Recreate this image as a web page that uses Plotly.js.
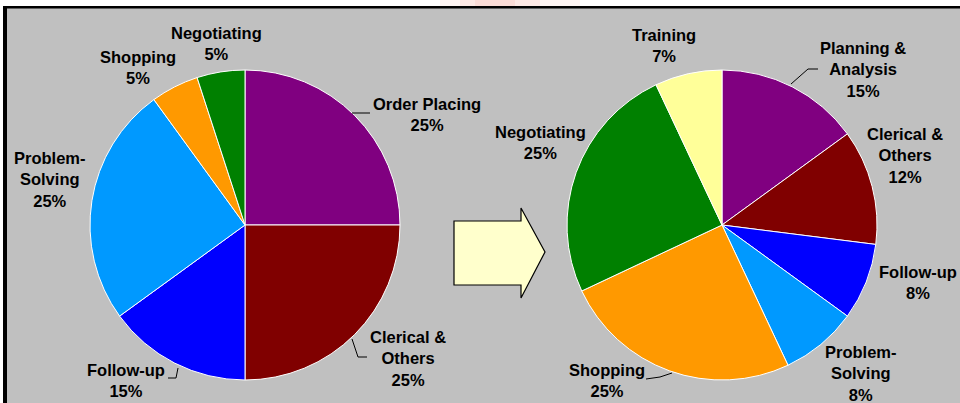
<!DOCTYPE html>
<html>
<head>
<meta charset="utf-8">
<script src="https://cdn.plot.ly/plotly-3.0.1.min.js"></script>
<style>
html,body{margin:0;padding:0;background:#fff;}
#chart{width:960px;height:403px;}
</style>
</head>
<body>
<div id="chart"></div>
<script>
// ---- data ----
var beforeLabels = ['Order Placing', 'Clerical & Others', 'Follow-up', 'Problem-Solving', 'Shopping', 'Negotiating'];
var beforeValues = [25, 25, 15, 25, 5, 5];
var beforeColors = ['#800080', '#800000', '#0000FF', '#0099FF', '#FF9900', '#008000'];

var afterLabels = ['Planning & Analysis', 'Clerical & Others', 'Follow-up', 'Problem-Solving', 'Shopping', 'Negotiating', 'Training'];
var afterValues = [15, 12, 8, 8, 25, 25, 7];
var afterColors = ['#800080', '#800000', '#0000FF', '#0099FF', '#FF9900', '#008000', '#FFFF99'];

// label block centres (px from top-left) — layout only
var beforeLabelPos = [[427, 115], [408, 358], [126, 380], [50, 179], [138, 67], [216, 43]];
var afterLabelPos = [[863, 70], [905, 155], [918, 282], [861, 373], [607, 380], [540, 142], [664, 45]];

// leader lines (px polylines) — layout only
var leaders = [
  [[352,113],[370,113]],
  [[352,339],[358,357],[367,357]],
  [[168,378],[176,378],[178,368]],
  [[791,84],[808,69],[818,69]],
  [[646,379],[660,377],[672,373]]
];

var W = 960, H = 403;
function px(x){ return x / W; }
function py(y){ return 1 - y / H; }

function wrap(name){
  if (name.indexOf(' & ') >= 0) return name.replace(' & ', ' &<br>');
  return name.replace(/-([A-Z])/, '-<br>$1');
}

var R = 155;
function domain(cx, cy){
  return {x: [px(cx - R), px(cx + R)], y: [py(cy + R), py(cy - R)]};
}

var common = {
  type: 'pie', sort: false, direction: 'clockwise', rotation: 0,
  textinfo: 'none', hoverinfo: 'label+percent', showlegend: false
};

var traces = [
  Object.assign({}, common, {
    labels: beforeLabels, values: beforeValues,
    marker: {colors: beforeColors, line: {color: '#FFFFFF', width: 1}},
    domain: domain(245, 225)
  }),
  Object.assign({}, common, {
    labels: afterLabels, values: afterValues,
    marker: {colors: afterColors, line: {color: '#FFFFFF', width: 1}},
    domain: domain(722, 225)
  })
];

var annFont = {family: 'Liberation Sans, Arial, sans-serif', size: 16.5, color: '#000000', weight: 'bold'};
var annotations = [];
function addLabels(labels, values, pos){
  labels.forEach(function(l, i){
    annotations.push({
      xref: 'paper', yref: 'paper', x: px(pos[i][0]), y: py(pos[i][1]),
      xanchor: 'center', yanchor: 'middle', showarrow: false, align: 'center',
      text: wrap(l) + '<br>' + values[i] + '%', font: annFont
    });
  });
}
addLabels(beforeLabels, beforeValues, beforeLabelPos);
addLabels(afterLabels, afterValues, afterLabelPos);

var shapes = [
  // top white strip
  {type: 'rect', xref: 'paper', yref: 'paper', x0: 0, x1: 1, y0: py(6), y1: 1, fillcolor: '#FFFFFF', line: {width: 0}, layer: 'below'},
  // soft pink glow in the strip
  {type: 'rect', xref: 'paper', yref: 'paper', x0: px(440), x1: px(580), y0: py(6), y1: 1, fillcolor: 'rgba(250,200,190,0.18)', line: {width: 0}, layer: 'below'},
  {type: 'rect', xref: 'paper', yref: 'paper', x0: px(460), x1: px(540), y0: py(6), y1: 1, fillcolor: 'rgba(250,190,180,0.22)', line: {width: 0}, layer: 'below'},
  {type: 'rect', xref: 'paper', yref: 'paper', x0: px(475), x1: px(515), y0: py(6), y1: 1, fillcolor: 'rgba(245,170,160,0.2)', line: {width: 0}, layer: 'below'},
  // left white strip
  {type: 'rect', xref: 'paper', yref: 'paper', x0: 0, x1: px(3), y0: 0, y1: 1, fillcolor: '#FFFFFF', line: {width: 0}, layer: 'below'},
  // black border
  {type: 'rect', xref: 'paper', yref: 'paper', x0: px(3), x1: 1, y0: py(8.5), y1: py(6), fillcolor: '#000000', line: {width: 0}, layer: 'below'},
  {type: 'rect', xref: 'paper', yref: 'paper', x0: px(3), x1: px(7), y0: 0, y1: py(6), fillcolor: '#000000', line: {width: 0}, layer: 'below'},
  // arrow
  {type: 'path', xref: 'paper', yref: 'paper',
   path: 'M' + px(454) + ',' + py(221) + ' L' + px(521) + ',' + py(221) + ' L' + px(521) + ',' + py(208) +
         ' L' + px(545) + ',' + py(252) + ' L' + px(521) + ',' + py(298) + ' L' + px(521) + ',' + py(285) +
         ' L' + px(454) + ',' + py(285) + ' Z',
   fillcolor: '#FFFFCC', line: {color: '#000000', width: 1.2}, layer: 'above'}
];
leaders.forEach(function(pts){
  for (var i = 0; i < pts.length - 1; i++){
    shapes.push({type: 'line', xref: 'paper', yref: 'paper',
      x0: px(pts[i][0]), y0: py(pts[i][1]), x1: px(pts[i+1][0]), y1: py(pts[i+1][1]),
      line: {color: '#000000', width: 1}});
  }
});

var layout = {
  width: W, height: H,
  margin: {l: 0, r: 0, t: 0, b: 0},
  paper_bgcolor: '#C0C0C0',
  showlegend: false,
  annotations: annotations,
  shapes: shapes
};

Plotly.newPlot('chart', traces, layout, {displayModeBar: false, staticPlot: true});
</script>
</body>
</html>
